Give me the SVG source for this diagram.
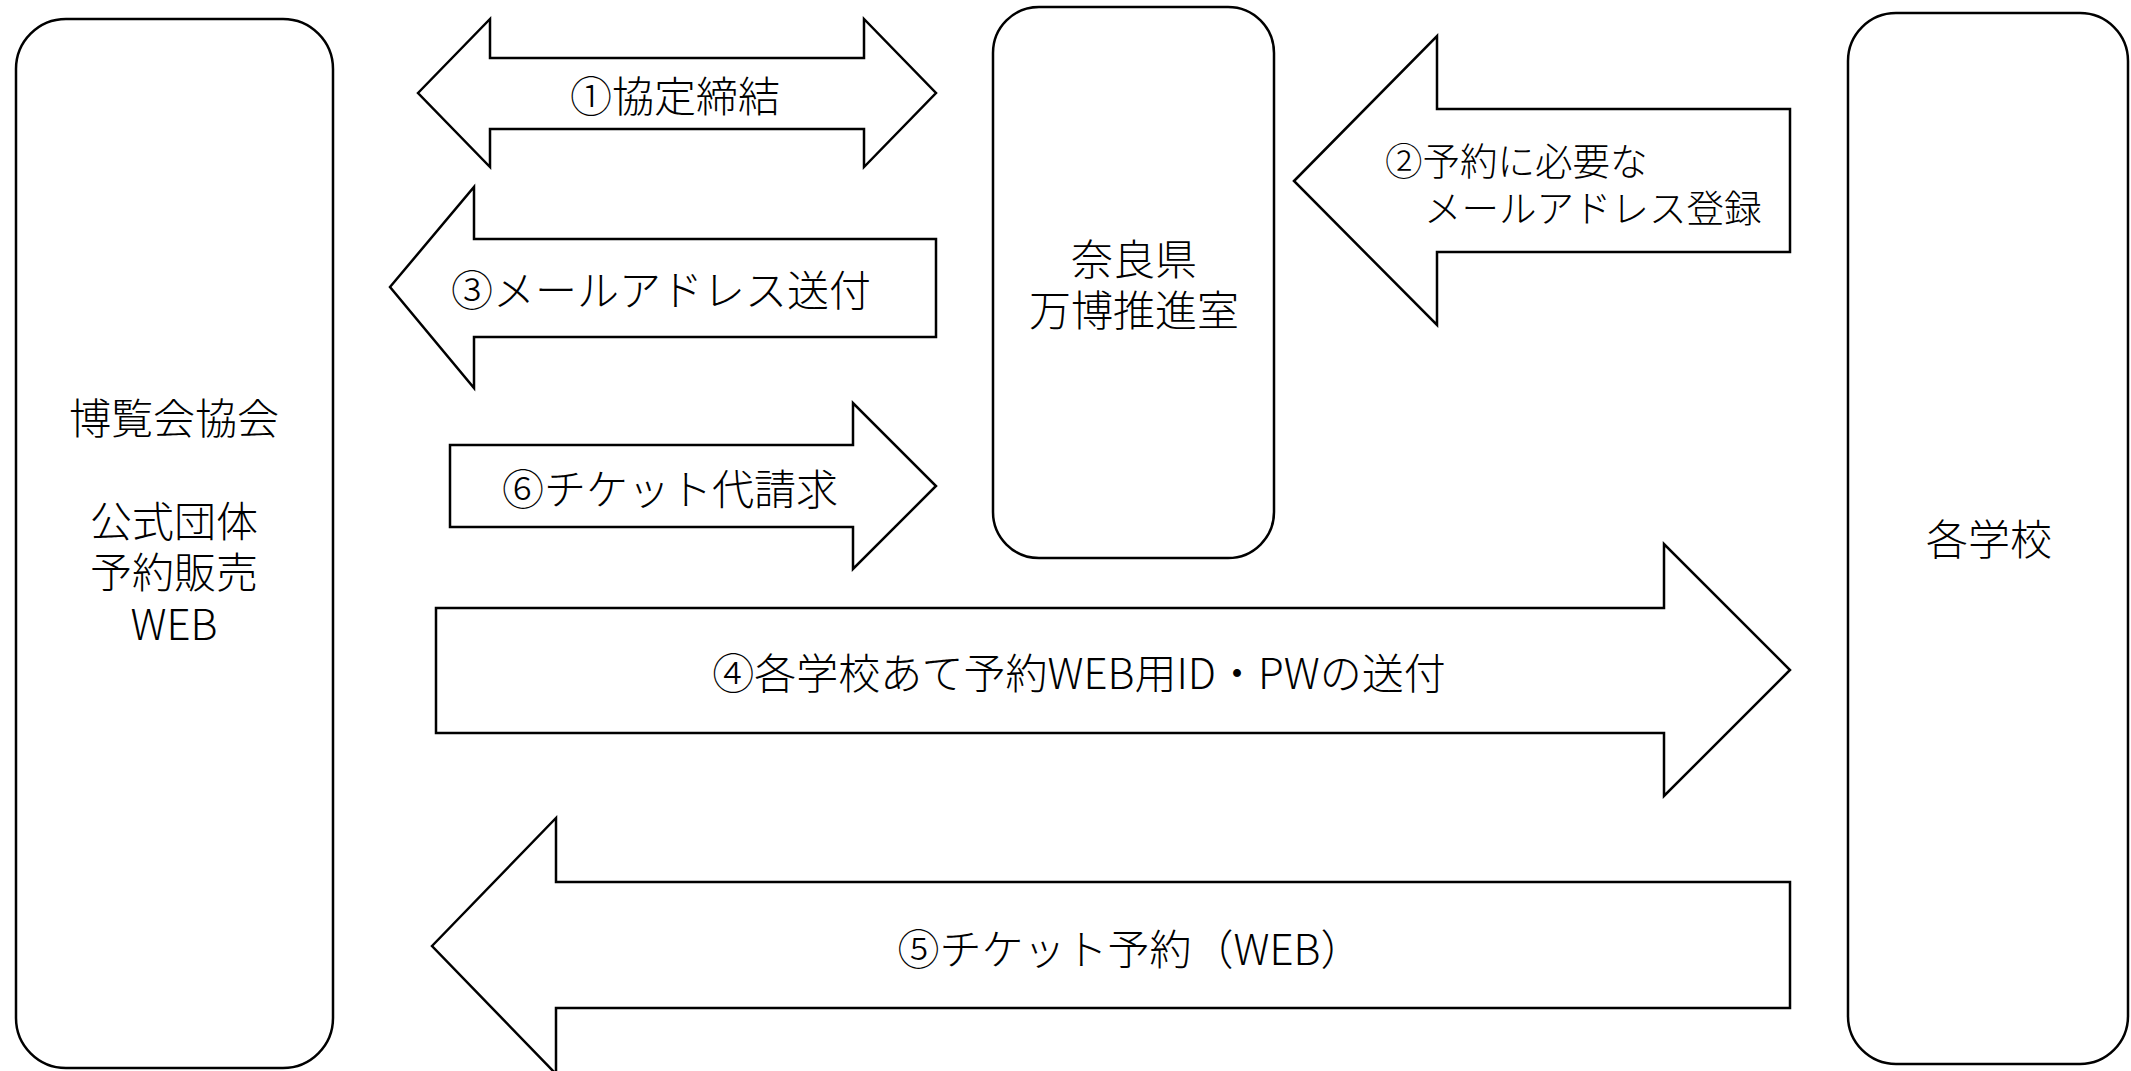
<svg xmlns="http://www.w3.org/2000/svg" width="2131" height="1071" viewBox="0 0 2131 1071">
<style>
.box{fill:#fff;stroke:#000;stroke-width:2.5}
.arr{fill:#fff;stroke:#000;stroke-width:2.5;stroke-linejoin:miter}
text{font-family:"Noto Sans CJK JP","Noto Sans",sans-serif;font-weight:300;font-size:42px;fill:#000;dominant-baseline:central}
.c{text-anchor:middle}
.s{font-size:37.5px}
</style>
<rect width="2131" height="1071" fill="#fff"/>
<g id="connectors">
<g id="a1"><polygon class="arr" points="418,93 490,19 490,58 864,58 864,19 936,93 864,167 864,129 490,129 490,167"/>
<text class="c" x="675" y="93">①協定締結</text></g>
<g id="a2"><polygon class="arr" points="1294,181 1437,36 1437,109 1790,109 1790,252 1437,252 1437,325"/>
<text class="s" x="1385" y="158">②予約に必要な</text>
<text class="s" x="1424" y="205">メールアドレス登録</text></g>
<g id="a3"><polygon class="arr" points="390,287 474,187 474,239 936,239 936,337 474,337 474,388"/>
<text class="c" x="661" y="287">③メールアドレス送付</text></g>
<g id="a6"><polygon class="arr" points="450,445 853,445 853,403 936,486 853,569 853,527 450,527"/>
<text class="c" x="670" y="486">⑥チケット代請求</text></g>
<g id="a4"><polygon class="arr" points="436,608 1664,608 1664,544 1790,670 1664,796 1664,733 436,733"/>
<text class="c" x="1079" y="670">④各学校あて予約WEB用ID・PWの送付</text></g>
<g id="a5"><polygon class="arr" points="432,946 556,818 556,882 1790,882 1790,1008 556,1008 556,1074"/>
<text class="c" x="1130" y="946">⑤チケット予約（WEB）</text></g>
</g>
<g id="expo">
<rect class="box" x="16" y="19" width="317" height="1049" rx="50" ry="50"/>
<text class="c" x="174" y="415">博覧会協会</text>
<text class="c" x="174" y="518">公式団体</text>
<text class="c" x="174" y="569">予約販売</text>
<text class="c" x="174" y="621">WEB</text>
</g>
<g id="nara">
<rect class="box" x="993" y="7" width="281" height="551" rx="46" ry="46"/>
<text class="c" x="1134" y="256">奈良県</text>
<text class="c" x="1134" y="307">万博推進室</text>
</g>
<g id="schools">
<rect class="box" x="1848" y="13" width="280" height="1051" rx="48" ry="48"/>
<text class="c" x="1989" y="536">各学校</text>
</g>
</svg>
